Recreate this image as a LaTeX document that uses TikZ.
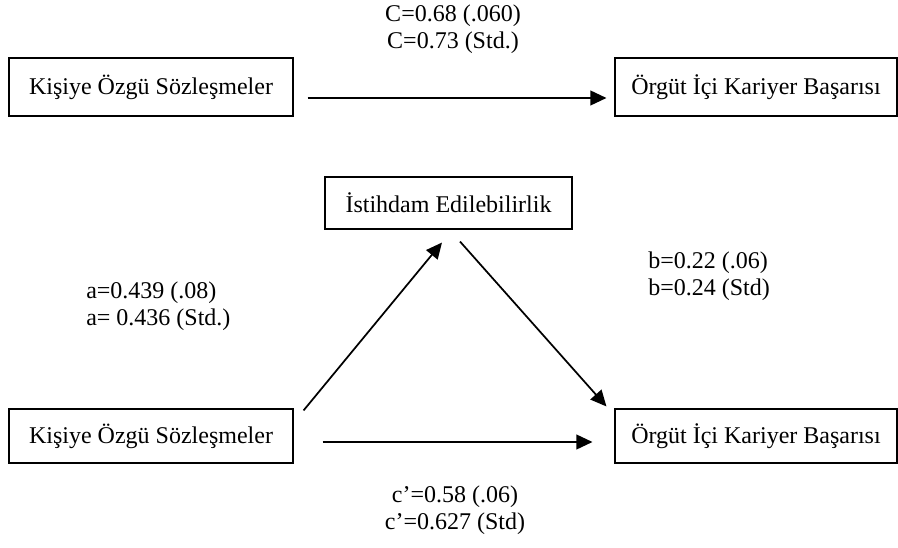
\documentclass[tikz,border=0pt]{standalone}
\usepackage{fontspec}
\setmainfont{Liberation Serif}
\usetikzlibrary{arrows.meta}

\begin{document}
\begin{tikzpicture}[x=0.75pt, y=-0.75pt,
  font=\fontsize{18}{20.5}\selectfont,
  box/.style={draw, line width=0.8pt, inner sep=0pt},
  link/.style={line width=1.3pt, -{Triangle[length=12pt,width=11pt]}},
  coef/.style={inner sep=0pt}]
\useasboundingbox (0,0) rectangle (898,548);
\node[box, minimum width=213pt, minimum height=43.5pt] (ks1) at (151,87) {Kişiye Özgü Sözleşmeler};
\node[box, minimum width=211.5pt, minimum height=43.5pt] (og1) at (756,87) {Örgüt İçi Kariyer Başarısı};
\node[box, minimum width=185.25pt, minimum height=39pt] (ie) at (448.5,203) {İstihdam Edilebilirlik};
\node[box, minimum width=213pt, minimum height=40.5pt] (ks2) at (151,436) {Kişiye Özgü Sözleşmeler};
\node[box, minimum width=211.5pt, minimum height=40.5pt] (og2) at (756,436) {Örgüt İçi Kariyer Başarısı};
\draw[link] ([shift={(14,11)}]ks1.east) -- ([shift={(-8,11)}]og1.west);
\draw[link] ([shift={(29,6)}]ks2.east) -- ([shift={(-22,6)}]og2.west);
\draw[link] ([shift={(10,2)}]ks2.north east) -- ([shift={(-6.5,13)}]ie.south);
\draw[link] ([shift={(11.5,12)}]ie.south) -- ([shift={(-8,-2)}]og2.north west);
\node[coef, align=center] (c) at (453,29.5) {C=0.68 (.060)\\C=0.73 (Std.)};
\node[coef, align=left, anchor=west] (a) at (86,306.5) {a=0.439 (.08)\\a= 0.436 (Std.)};
\node[coef, align=left, anchor=west] (b) at (648,276.5) {b=0.22 (.06)\\b=0.24 (Std)};
\node[coef, align=center] (cp) at (455,510) {c’=0.58 (.06)\\c’=0.627 (Std)};
\end{tikzpicture}
\end{document}
